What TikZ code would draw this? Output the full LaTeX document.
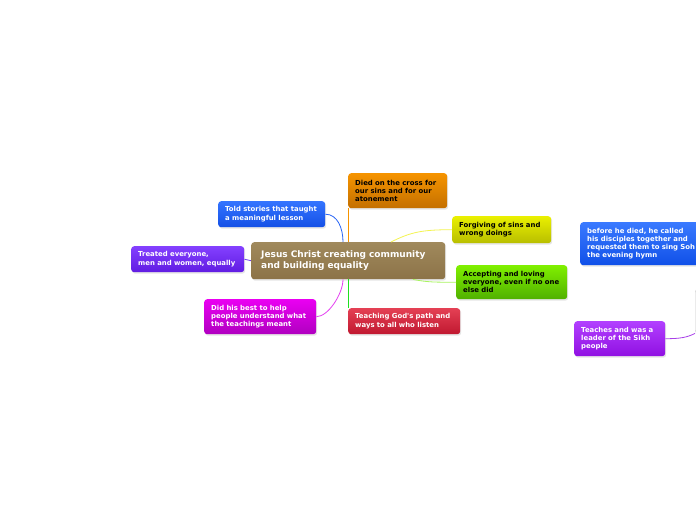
\documentclass[tikz,border=0pt]{standalone}
\usepackage{fontspec}
\newfontfamily\mapfont{DejaVu Sans}
\usetikzlibrary{shadows}
\definecolor{centrebrown}{RGB}{160,137,92}
\definecolor{centrebrownd}{RGB}{140,115,72}
\definecolor{diedtop}{RGB}{246,148,0}
\definecolor{diedbot}{RGB}{196,112,0}
\definecolor{toldtop}{RGB}{52,116,255}
\definecolor{toldbot}{RGB}{20,80,230}
\definecolor{forgivetop}{RGB}{234,240,0}
\definecolor{forgivebot}{RGB}{184,190,0}
\definecolor{treattop}{RGB}{132,64,255}
\definecolor{treatbot}{RGB}{96,28,226}
\definecolor{accepttop}{RGB}{128,240,0}
\definecolor{acceptbot}{RGB}{80,176,0}
\definecolor{didtop}{RGB}{234,0,242}
\definecolor{didbot}{RGB}{176,0,192}
\definecolor{teachtop}{RGB}{228,64,84}
\definecolor{teachbot}{RGB}{192,24,48}
\definecolor{beforetop}{RGB}{58,122,255}
\definecolor{beforebot}{RGB}{16,80,232}
\definecolor{sikhtop}{RGB}{178,64,255}
\definecolor{sikhbot}{RGB}{144,16,226}
\definecolor{gurugrey}{RGB}{200,200,200}
\definecolor{linkorange}{RGB}{246,148,0}
\definecolor{linkblue}{RGB}{40,100,245}
\definecolor{linkyellow}{RGB}{244,244,80}
\definecolor{linkpurple}{RGB}{116,64,240}
\definecolor{linklime}{RGB}{168,244,96}
\definecolor{linkmagenta}{RGB}{228,64,240}
\definecolor{linkgreen}{RGB}{32,224,32}
\definecolor{linkviolet}{RGB}{168,64,232}
\tikzset{
  topic/.style={rounded corners=3pt, anchor=north west, align=left,
    inner xsep=7pt, inner ysep=0pt, text=white,
    font=\mapfont\bfseries\fontsize{6.9}{8.2}\selectfont,
    drop shadow={shadow xshift=1pt, shadow yshift=-1.5pt, opacity=0.2}},
  darktext/.style={text=black},
  link/.style={line width=0.8pt}
}
\begin{document}
\begin{tikzpicture}[x=1pt,y=-1pt]
    \useasboundingbox (0,0) rectangle (696,520);
    \clip (0,0) rectangle (696,520);
    \fill[white] (0,0) rectangle (696,520);

    \node[topic, inner xsep=10pt, text width=174pt, minimum height=37pt,
      top color=centrebrown, bottom color=centrebrownd,
      font=\mapfont\bfseries\fontsize{9}{11}\selectfont] (jesus) at (251,242)
      {Jesus Christ creating community\\and building equality};

    \node[topic, darktext, text width=85pt, minimum height=35pt, top color=diedtop, bottom color=diedbot]
      (died) at (348,173) {Died on the cross for\\our sins and for our\\atonement};
    \node[topic, text width=93pt, minimum height=26pt, top color=toldtop, bottom color=toldbot]
      (told) at (218,201) {Told stories that taught\\a meaningful lesson};
    \node[topic, darktext, text width=85pt, minimum height=27pt, top color=forgivetop, bottom color=forgivebot]
      (forgive) at (452,216) {Forgiving of sins and\\wrong doings};
    \node[topic, text width=99pt, minimum height=26pt, top color=treattop, bottom color=treatbot]
      (treat) at (131,246) {Treated everyone,\\men and women, equally};
    \node[topic, darktext, text width=97pt, minimum height=34pt, top color=accepttop, bottom color=acceptbot]
      (accept) at (456,265) {Accepting and loving\\everyone, even if no one\\else did};
    \node[topic, text width=98pt, minimum height=35pt, top color=didtop, bottom color=didbot]
      (did) at (204,299) {Did his best to help\\people understand what\\the teachings meant};
    \node[topic, text width=98pt, minimum height=26pt, top color=teachtop, bottom color=teachbot]
      (teach) at (348,308) {Teaching God's path and\\ways to all who listen};
    \node[topic, text width=130pt, minimum height=43pt, top color=beforetop, bottom color=beforebot]
      (before) at (580,222) {before he died, he called\\his disciples together and\\requested them to sing Soh\\the evening hymn};
    \node[topic, text width=77pt, minimum height=35pt, top color=sikhtop, bottom color=sikhbot]
      (sikh) at (574,321) {Teaches and was a\\leader of the Sikh\\people};
    \node[topic, draw=gurugrey, fill=white, drop shadow={opacity=0},
      minimum width=70pt, minimum height=44pt] (guru) at (695,289) {};

    \draw[link, linkorange] (died.south west) -- ([xshift=97pt]jesus.north west);
    \draw[link, linkblue] (told.east) .. controls +(12,0) and +(0,-14) .. ([xshift=92pt]jesus.north west);
    \draw[link, linkyellow] ([xshift=140pt]jesus.north west) .. controls +(20,-10) and +(-30,0) .. (forgive.west);
    \draw[link, linkpurple] (treat.east) -- (jesus.west);
    \draw[link, linklime] ([xshift=162pt]jesus.south west) .. controls +(15,3) and +(-20,0) .. (accept.west);
    \draw[link, linkmagenta] (did.east) .. controls +(12,0) and +(0,14) .. ([xshift=92pt]jesus.south west);
    \draw[link, linkgreen] ([xshift=97pt]jesus.south west) -- (teach.north west);
    \draw[link, linkviolet] (sikh.east) .. controls +(15,0) and +(-8,4) .. (guru.south west);
\end{tikzpicture}
\end{document}
